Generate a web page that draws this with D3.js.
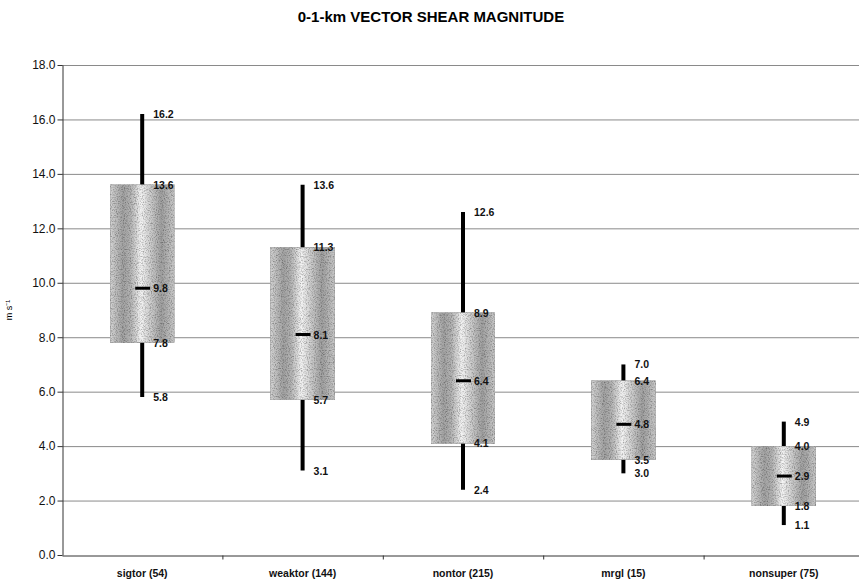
<!DOCTYPE html>
<html>
<head>
<meta charset="utf-8">
<script src="https://cdn.jsdelivr.net/npm/d3@7"></script>
<style>
  body { margin: 0; background: #fff; }
  text { font-family: "Liberation Sans", Arial, sans-serif; }
</style>
</head>
<body>
<div id="chart"></div>
<script>
/* global d3 */
// box plot values
var categories = ["sigtor (54)", "weaktor (144)", "nontor (215)", "mrgl (15)", "nonsuper (75)"];
var minVals = [5.8, 3.1, 2.4, 3.0, 1.1];
var q1Vals = [7.8, 5.7, 4.1, 3.5, 1.8];
var medVals = [9.8, 8.1, 6.4, 4.8, 2.9];
var q3Vals = [13.6, 11.3, 8.9, 6.4, 4.0];
var maxVals = [16.2, 13.6, 12.6, 7.0, 4.9];
var yTicks = [0, 2, 4, 6, 8, 10, 12, 14, 16, 18];

var width = 859;
var height = 579;

var boxes = categories.map(function (c, i) {
    return { name: c, min: minVals[i], q1: q1Vals[i], med: medVals[i], q3: q3Vals[i], max: maxVals[i] };
});

var svg = d3.select("#chart").append("svg")
    .attr("width", width)
    .attr("height", height);

var x = d3.scaleBand().domain(categories).range([62, 864]);
var y = d3.scaleLinear().domain([0, 18]).range([555, 65]);

// grainy gray fill for the boxes
var defs = svg.append("defs");
var grad = defs.append("linearGradient").attr("id", "boxGrad")
    .attr("x1", "0%").attr("x2", "100%").attr("y1", "0%").attr("y2", "0%");
[[0, "#d4d4d4"], [0.2, "#a2a2a2"], [0.32, "#b4b4b4"], [0.48, "#f4f4f4"], [0.62, "#cfcfcf"],
 [0.8, "#a0a0a0"], [1, "#c8c8c8"]].forEach(function (s) {
    grad.append("stop").attr("offset", s[0]).attr("stop-color", s[1]);
});
var filt = defs.append("filter").attr("id", "grain").attr("x", 0).attr("y", 0)
    .attr("width", 1).attr("height", 1);
filt.append("feTurbulence").attr("type", "fractalNoise").attr("baseFrequency", 0.85)
    .attr("numOctaves", 2).attr("seed", 3).attr("result", "noise");
filt.append("feColorMatrix").attr("in", "noise").attr("type", "matrix")
    .attr("values", "0 0 0 0 0.45  0 0 0 0 0.45  0 0 0 0 0.45  0 0 0 -2.6 1.5").attr("result", "dots");
filt.append("feComposite").attr("in", "dots").attr("in2", "SourceGraphic").attr("operator", "in").attr("result", "dots2");
filt.append("feBlend").attr("in", "SourceGraphic").attr("in2", "dots2").attr("mode", "multiply");

// title
svg.append("text")
    .attr("x", 431).attr("y", 22)
    .attr("text-anchor", "middle")
    .style("font-size", "15px").style("font-weight", "bold")
    .text("0-1-km VECTOR SHEAR MAGNITUDE");

// gridlines
svg.append("g").selectAll("line")
    .data(yTicks.filter(function (d) { return d > 0; }))
    .enter().append("line")
    .attr("x1", 62).attr("x2", width)
    .attr("y1", function (d) { return y(d) + 0.5; })
    .attr("y2", function (d) { return y(d) + 0.5; })
    .attr("stroke", "#8a8a8a")
    .attr("stroke-width", 1);

// y axis
var yAxis = svg.append("g")
    .attr("transform", "translate(62.5,0)")
    .call(d3.axisLeft(y).tickValues(yTicks).tickFormat(d3.format(".1f")).tickSize(5).tickSizeOuter(0));
yAxis.select(".domain").attr("stroke", "#333");
yAxis.selectAll(".tick line").attr("stroke", "#333");
yAxis.selectAll("text").style("font-size", "12px").attr("fill", "#111").attr("x", -7);

svg.append("text")
    .attr("transform", "translate(12," + y(9) + ") rotate(-90)")
    .attr("text-anchor", "middle")
    .style("font-size", "9px")
    .text("m s\u207B\u00B9");

// x axis
var xAxis = svg.append("g")
    .attr("transform", "translate(0," + (y(0) + 0.5) + ")")
    .call(d3.axisBottom(x).tickSize(0).tickSizeOuter(0));
xAxis.select(".domain").attr("stroke", "#333");
xAxis.selectAll("text").style("font-size", "10.5px").style("font-weight", "bold")
    .attr("fill", "#111").attr("dy", "1.75em");
xAxis.selectAll(".sep")
    .data(categories.slice(1))
    .enter().append("line")
    .attr("x1", function (d) { return x(d) + 0.5; })
    .attr("x2", function (d) { return x(d) + 0.5; })
    .attr("y1", 0).attr("y2", 4)
    .attr("stroke", "#333");

// boxes
var bw = 64;
var g = svg.append("g");
var box = g.selectAll(".box")
    .data(boxes)
    .enter().append("g")
    .attr("class", "box")
    .attr("transform", function (d) { return "translate(" + (x(d.name) + x.bandwidth() / 2) + ",0)"; });

box.append("line")
    .attr("x1", 0).attr("x2", 0)
    .attr("y1", function (d) { return y(d.max); })
    .attr("y2", function (d) { return y(d.min); })
    .attr("stroke", "#000")
    .attr("stroke-width", 4);

box.append("rect")
    .attr("x", -bw / 2)
    .attr("width", bw)
    .attr("y", function (d) { return y(d.q3); })
    .attr("height", function (d) { return y(d.q1) - y(d.q3); })
    .attr("fill", "url(#boxGrad)")
    .attr("filter", "url(#grain)")
    .attr("stroke", "#9a9a9a")
    .attr("stroke-width", 0.6);

box.append("line")
    .attr("x1", -7).attr("x2", 8)
    .attr("y1", function (d) { return y(d.med); })
    .attr("y2", function (d) { return y(d.med); })
    .attr("stroke", "#000")
    .attr("stroke-width", 3);

// value labels
box.selectAll(".val")
    .data(function (d) { return [d.max, d.q3, d.med, d.q1, d.min]; })
    .enter().append("text")
    .attr("class", "val")
    .attr("x", 11)
    .attr("y", function (v) { return y(v) + 4; })
    .style("font-size", "10.5px")
    .style("font-weight", "bold")
    .attr("fill", "#111")
    .text(function (v) { return d3.format(".1f")(v); });
</script>
</body>
</html>
